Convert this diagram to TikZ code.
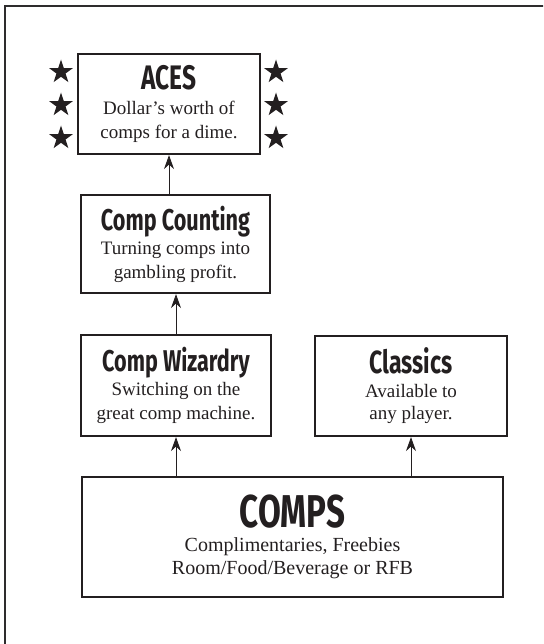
\documentclass[tikz,border=0pt]{standalone}
\usepackage{fontspec}
\setmainfont{Liberation Serif}
\newfontfamily\headfont[FakeStretch=0.72]{Fira Sans}
\usetikzlibrary{arrows.meta, shapes.geometric}
\definecolor{inkblk}{HTML}{231F20}
\definecolor{framegray}{HTML}{2E2C2D}

\begin{document}
\begin{tikzpicture}[x=1pt, y=-1pt, >={Stealth[length=14pt, width=10pt]},
  compbox/.style={draw=inkblk, line width=2.2pt, align=center, inner sep=0pt,
    text=inkblk, font=\fontsize{19}{24}\selectfont},
  upline/.style={inkblk, line width=0.9pt, ->},
  starmark/.style={star, star points=5, star point ratio=2.6, fill=inkblk,
    inner sep=0pt, minimum size=25pt}]

% Canvas and frame
\useasboundingbox (0,0) rectangle (543,644);
\clip (0,0) rectangle (543,644);
\draw[framegray, line width=2.6pt] (5,670) -- (5,6) -- (570,6);

% Boxes
\node[compbox, minimum width=182pt, minimum height=100pt] (aces) at (169,104)
  {{\headfont\bfseries\fontsize{34}{34}\selectfont ACES}\\[1pt]
   Dollar's worth of\\ comps for a dime.};
\node[compbox, minimum width=189pt, minimum height=98pt] (counting) at (175.5,244)
  {{\headfont\bfseries\fontsize{30}{30}\selectfont Comp Counting}\\
   Turning comps into\\ gambling profit.};
\node[compbox, minimum width=190pt, minimum height=101pt] (wizardry) at (176,385.5)
  {{\headfont\bfseries\fontsize{30}{30}\selectfont Comp Wizardry}\\
   Switching on the\\ great comp machine.};
\node[compbox, minimum width=192pt, minimum height=100pt,
  font=\fontsize{19}{22}\selectfont] (classics) at (411,386)
  {{\headfont\bfseries\fontsize{32}{32}\selectfont Classics}\\[2pt]
   Available to\\ any player.};
\node[compbox, minimum width=421pt, minimum height=120pt,
  font=\fontsize{20}{23}\selectfont] (comps) at (292.5,537)
  {{\headfont\bfseries\fontsize{46}{46}\selectfont COMPS}\\[1pt]
   Complimentaries, Freebies\\ Room/Food/Beverage or RFB};

% Stars beside the top box
\foreach \sy [count=\i] in {72,105,138} {
  \node[starmark] (starL\i) at (61,\sy) {};
  \node[starmark] (starR\i) at (276,\sy) {};
}

% Arrows
\draw[upline] (aces.south |- counting.north) -- (aces.south);
\draw[upline] (wizardry.north) -- (wizardry.north |- counting.south);
\draw[upline] (comps.north -| wizardry) -- (wizardry.south);
\draw[upline] (comps.north -| classics) -- (classics.south);

\end{tikzpicture}
\end{document}
